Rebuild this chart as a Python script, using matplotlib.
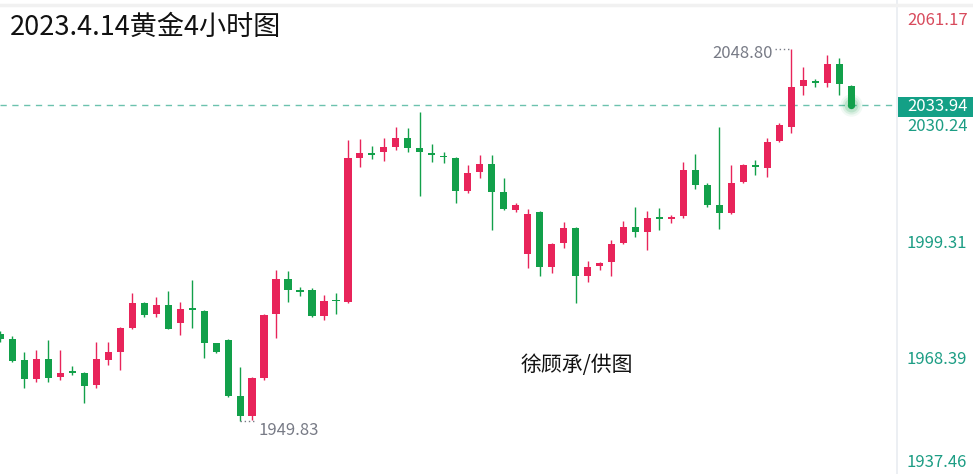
import matplotlib
matplotlib.use('Agg')
import numpy as np
import matplotlib.pyplot as plt
import matplotlib.transforms as mtransforms
from matplotlib.patches import Rectangle
from matplotlib.lines import Line2D

plt.rcParams['font.family'] = ['Noto Sans CJK SC', 'DejaVu Sans']

# 4h candles
opens = [1973.0, 1971.6, 1966.0, 1961.0, 1966.3, 1961.5, 1962.9, 1962.6, 1959.4, 1966.0,
         1968.2, 1974.5, 1981.2, 1978.3, 1980.7, 1975.9, 1979.9, 1979.1, 1970.6, 1971.5,
         1956.5, 1951.1, 1961.3, 1978.3, 1987.6, 1984.7, 1984.7, 1977.7, 1982.0, 1981.5,
         2019.8, 2021.1, 2021.4, 2022.7, 2025.1, 2022.4, 2021.1, 2020.3, 2019.8, 2011.0,
         2016.0, 2018.2, 2010.7, 2005.9, 1994.2, 2005.4, 1990.8, 1997.2, 2001.2, 1988.4,
         1991.0, 1992.1, 1997.2, 2001.4, 2000.1, 2003.8, 2003.6, 2004.3, 2016.6, 2012.6,
         2007.3, 2005.1, 2013.4, 2017.9, 2017.1, 2024.3, 2028.0, 2038.9, 2040.0, 2039.7,
         2044.8, 2039.0]
highs = [1973.8, 1972.4, 1968.2, 1968.7, 1971.4, 1968.7, 1964.4, 1962.9, 1970.8, 1970.8,
         1974.8, 1983.9, 1981.5, 1982.8, 1984.4, 1981.5, 1987.3, 1979.3, 1970.7, 1971.7,
         1964.2, 1961.6, 1978.3, 1990.0, 1989.7, 1985.5, 1985.2, 1983.3, 1983.9, 2024.6,
         2024.8, 2023.0, 2025.1, 2028.0, 2027.8, 2032.0, 2023.5, 2021.4, 2020.0, 2017.9,
         2020.6, 2020.6, 2014.5, 2007.8, 2006.2, 2005.6, 1997.2, 2002.8, 2001.4, 1992.4,
         1992.1, 1998.0, 2003.0, 2006.7, 2005.7, 2006.5, 2004.6, 2018.7, 2020.8, 2013.1,
         2028.0, 2017.9, 2018.2, 2019.2, 2025.1, 2029.1, 2048.8, 2044.0, 2040.8, 2047.2,
         2046.4, 2039.2]
lows = [1970.8, 1965.5, 1958.6, 1960.2, 1960.2, 1960.7, 1962.1, 1954.6, 1958.6, 1964.7,
        1963.4, 1974.3, 1977.5, 1977.5, 1974.2, 1972.7, 1974.5, 1966.6, 1967.9, 1956.3,
        1949.83, 1950.1, 1960.7, 1971.9, 1981.5, 1983.1, 1977.5, 1976.7, 1978.3, 1981.2,
        2017.4, 2019.5, 2019.0, 2021.9, 2021.4, 2009.7, 2018.7, 2018.4, 2007.8, 2010.5,
        2014.5, 2000.6, 2005.9, 2005.4, 1990.5, 1988.4, 1989.2, 1995.8, 1981.2, 1986.8,
        1990.0, 1988.4, 1997.0, 1998.8, 1995.3, 2000.6, 2002.5, 2003.8, 2011.5, 2006.7,
        2000.9, 2004.9, 2013.1, 2015.3, 2014.7, 2024.0, 2026.4, 2036.5, 2038.7, 2038.7,
        2036.5, 2033.7]
closes = [1971.6, 1965.8, 1961.0, 1966.3, 1961.3, 1962.6, 1962.6, 1959.1, 1966.3, 1968.2,
          1974.5, 1981.2, 1978.0, 1980.7, 1974.4, 1979.6, 1979.3, 1970.6, 1968.2, 1956.5,
          1951.1, 1961.3, 1978.0, 1987.6, 1984.7, 1984.1, 1977.7, 1981.7, 1981.7, 2019.8,
          2021.1, 2020.6, 2022.7, 2025.1, 2022.4, 2021.4, 2020.6, 2020.0, 2011.0, 2015.8,
          2018.2, 2010.7, 2006.2, 2007.3, 2004.9, 1990.8, 1996.9, 2001.2, 1988.4, 1990.8,
          1991.8, 1996.9, 2001.4, 2000.1, 2003.8, 2003.6, 2004.1, 2016.6, 2012.6, 2007.3,
          2005.1, 2013.1, 2017.9, 2017.4, 2024.0, 2028.6, 2038.7, 2040.5, 2039.7, 2044.8,
          2039.5, 2033.94]

tick_vals = [1937.46, 1968.39, 1999.31, 2030.24, 2061.17]
tick_shift = [-7.0, 6.7, 7.0, 6.3, 15.6]   # px down, how the labels sit in the picture
last_price = 2033.94
title = '2023.4.14黄金4小时图'
credit = '徐顾承/供图'

RED = '#e8245a'
GREEN = '#12a04a'
TEAL = '#1c9d84'
GRAY = '#787b86'

fig = plt.figure(figsize=(9.73, 4.74), dpi=100)
ax = fig.add_axes([0, 0, 897 / 973, 1])

o = np.array(opens)
h = np.array(highs)
l = np.array(lows)
c = np.array(closes)
x = np.arange(len(c))
cols = np.where(c >= o, RED, GREEN)

ax.vlines(x, l, h, colors=cols, lw=1.0, zorder=2)
ax.bar(x, np.maximum(np.abs(c - o), 0.45), bottom=np.minimum(o, c), width=0.6,
       color=cols, linewidth=0, zorder=3)

ax.set_xlim(-0.04, 74.83)
ax.set_ylim(1935.74, 2061.81)

# last price line + glowing dot
ax.axhline(last_price, color='#6cc2ae', lw=1.0, ls=(0, (4.5, 4)), zorder=1)
for s, a in [(260, 0.06), (170, 0.1), (100, 0.15), (28, 1.0)]:
    ax.scatter([x[-1]], [last_price], s=s, color=GREEN, alpha=a, linewidths=0, zorder=4)

# high / low markers
ih = int(np.argmax(h))
il = int(np.argmin(l))
ax.plot([ih - 1.35, ih], [h[ih], h[ih]], ls=(0, (1, 2)), color=GRAY, lw=1.0)
ax.plot([il, il + 1.35], [l[il], l[il]], ls=(0, (1, 2)), color=GRAY, lw=1.0)
ax.annotate('%.2f' % h[ih], xy=(ih, h[ih]), xytext=(-18, -5), textcoords='offset pixels',
            ha='right', va='center', fontsize=12, color=GRAY)
ax.annotate('%.2f' % l[il], xy=(il, l[il]), xytext=(18, -9), textcoords='offset pixels',
            ha='left', va='center', fontsize=12, color=GRAY)

# right price axis
for side in ['top', 'bottom', 'left']:
    ax.spines[side].set_visible(False)
ax.spines['right'].set_color('#e9ecf1')
ax.spines['right'].set_linewidth(1.2)
ax.set_xticks([])
ax.yaxis.tick_right()
ax.set_yticks(tick_vals)
ax.set_yticklabels(['%.2f' % v for v in tick_vals])
ax.tick_params(axis='y', length=0, pad=7.2, labelsize=12, labelcolor=TEAL)
for lab, dy in zip(ax.get_yticklabels(), tick_shift):
    lab.set_transform(lab.get_transform() +
                      mtransforms.ScaledTranslation(0, -dy / 100, fig.dpi_scale_trans))
ax.get_yticklabels()[-1].set_color('#d84a5c')

# current price tag
blend = mtransforms.blended_transform_factory(fig.transFigure, ax.transData)
tag = Rectangle((898 / 973, last_price - 3.2), 75 / 973, 5.32, transform=blend,
                facecolor='#13a086', edgecolor='none', clip_on=False, zorder=5)
fig.add_artist(tag)
fig.text(907 / 973, last_price - 0.55, '%.2f' % last_price, transform=blend,
         color='white', fontsize=12, ha='left', va='center', zorder=6)

fig.add_artist(Line2D([0, 1], [1 - 4.5 / 474, 1 - 4.5 / 474], transform=fig.transFigure,
                      color='#f1f1f1', lw=2.5))

fig.text(10 / 973, 1 - 27 / 474, title, fontsize=19.5, color='#111111',
         ha='left', va='center')
fig.text(577 / 973, 1 - 365 / 474, credit, fontsize=15, color='#111111',
         ha='center', va='center')

fig.savefig('out.png', dpi=100)
